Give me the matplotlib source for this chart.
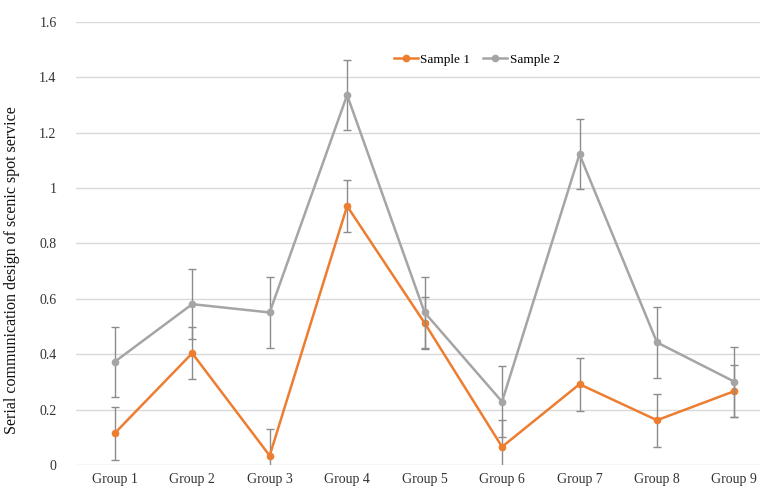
import numpy as np
import matplotlib
matplotlib.use('Agg')
from matplotlib import pyplot as plt
from matplotlib.lines import Line2D

# Data
groups = ['Group 1', 'Group 2', 'Group 3', 'Group 4', 'Group 5',
          'Group 6', 'Group 7', 'Group 8', 'Group 9']
sample1 = [0.115, 0.404, 0.034, 0.935, 0.513, 0.066, 0.292, 0.162, 0.267]
sample2 = [0.373, 0.581, 0.551, 1.336, 0.551, 0.229, 1.122, 0.443, 0.301]
err1 = [0.095, 0.095, 0.095, 0.095, 0.095, 0.095, 0.095, 0.095, 0.095]
err2 = [0.127, 0.127, 0.127, 0.127, 0.127, 0.127, 0.127, 0.127, 0.127]
yticks = [0, 0.2, 0.4, 0.6, 0.8, 1.0, 1.2, 1.4, 1.6]
yticklabels = ['0', '0.2', '0.4', '0.6', '0.8', '1', '1.2', '1.4', '1.6']

ORANGE = '#ED7D31'
GREY = '#A5A5A5'

plt.rcParams['font.family'] = ['Liberation Serif', 'DejaVu Serif']

fig = plt.figure(figsize=(7.6, 4.87), dpi=100)
ax = fig.add_axes([0.1, 0.045, 0.9, 0.91])

x = np.arange(len(groups))
errStyle = dict(ecolor='#8c8c8c', elinewidth=1.0, capsize=3, capthick=1.0)
ax.errorbar(x, sample1, yerr=err1, color=ORANGE, lw=1.8, marker='o',
            ms=4.5, zorder=3, **errStyle)
ax.errorbar(x, sample2, yerr=err2, color=GREY, lw=1.8, marker='o',
            ms=4.5, zorder=4, **errStyle)

ax.set_ylim(0, 1.6)
ax.set_xlim(-0.5, 8.33)
ax.set_yticks(yticks)
ax.set_yticklabels(yticklabels)
ax.set_xticks(x)
ax.set_xticklabels(groups)
ax.grid(axis='y', color='#d9d9d9', lw=1.0)
ax.set_axisbelow(True)
for s in ax.spines.values():
    s.set_visible(False)
ax.tick_params(axis='both', length=0, labelsize=10, colors='#333333')
ax.tick_params(axis='y', pad=14)
ax.tick_params(axis='x', pad=6)
ax.set_ylabel('Serial communication design of scenic spot service',
              fontsize=11.5, color='#111111', labelpad=12)
ax.yaxis.set_label_coords(-0.082, 0.44)

# Legend shows line + marker only (no error bar glyphs)
handles = [
    Line2D([], [], color=ORANGE, lw=1.8, marker='o', ms=4.5),
    Line2D([], [], color=GREY, lw=1.8, marker='o', ms=4.5),
]
ax.legend(handles, ['Sample 1', 'Sample 2'], loc='center',
          bbox_to_anchor=(0.586, 0.915), ncol=2, frameon=False,
          fontsize=9.5, handlelength=1.8, columnspacing=1.0,
          handletextpad=0.2)

fig.savefig('out.png', dpi=100)
